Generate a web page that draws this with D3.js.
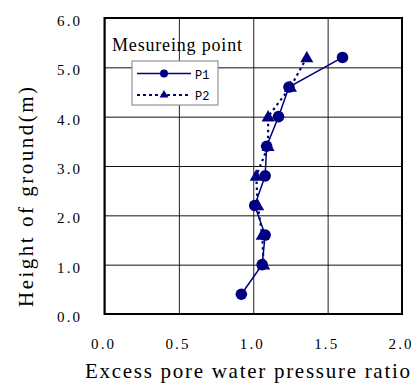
<!DOCTYPE html>
<html>
<head>
<meta charset="utf-8">
<script src="https://cdn.jsdelivr.net/npm/d3@7"></script>
<style>
  html, body { margin: 0; padding: 0; background: #fff; }
  svg { display: block; }
</style>
</head>
<body>
<div id="chart"></div>
<script>
// measured heights (m) and pore pressure ratios
const heightsP1 = [5.2, 4.6, 4.0, 3.4, 2.8, 2.2, 1.6, 1.0, 0.4];
const ratiosP1 = [1.60, 1.24, 1.17, 1.09, 1.08, 1.01, 1.08, 1.06, 0.92];
const heightsP2 = [5.2, 4.6, 4.0, 3.4, 2.8, 2.2, 1.6, 1.0];
const ratiosP2 = [1.36, 1.25, 1.10, 1.10, 1.02, 1.03, 1.06, 1.07];
const xTicks = [0, 0.5, 1.0, 1.5, 2.0];
const yTicks = [0, 1, 2, 3, 4, 5, 6];
const seriesNames = ['P1', 'P2'];

const W = 411, H = 383;
const navy = '#000080';
const serif = 'Liberation Serif, Times New Roman, serif';
const mono = 'Liberation Mono, Courier New, monospace';

const svg = d3.select('#chart').append('svg')
  .attr('width', W)
  .attr('height', H)
  .attr('font-family', serif);

const x = d3.scaleLinear().domain([0, 2]).range([104.5, 402]);
const y = d3.scaleLinear().domain([0, 6]).range([314, 18]);
const plotW = x.range()[1] - x.range()[0];
const plotH = y.range()[0] - y.range()[1];

// Grid lines
const gx = svg.append('g')
  .attr('transform', `translate(0,${y(0)})`)
  .call(d3.axisBottom(x).tickValues(xTicks).tickSize(-plotH).tickFormat(() => ''));
gx.select('.domain').remove();
gx.selectAll('line').attr('stroke', '#222').attr('stroke-width', 1);

const gy = svg.append('g')
  .attr('transform', `translate(${x(0)},0)`)
  .call(d3.axisLeft(y).tickValues(yTicks).tickSize(-plotW).tickFormat(() => ''));
gy.select('.domain').remove();
gy.selectAll('line').attr('stroke', '#111').attr('stroke-width', 1);

// Frame
svg.append('rect')
  .attr('x', x(0))
  .attr('y', y(6))
  .attr('width', plotW)
  .attr('height', plotH)
  .attr('fill', 'none')
  .attr('stroke', '#000')
  .attr('stroke-width', 2);

// Tick labels
const yAxis = svg.append('g')
  .attr('transform', `translate(${x(0)},0)`)
  .call(d3.axisLeft(y).tickValues(yTicks).tickSize(0).tickPadding(24.5).tickFormat(d3.format('.1f')));
yAxis.attr('font-family', serif).attr('font-size', 15);
yAxis.select('.domain').remove();
yAxis.selectAll('text')
  .attr('dy', '0.5em')
  .attr('textLength', 23)
  .attr('lengthAdjust', 'spacing')
  .attr('fill', '#000');

const xAxis = svg.append('g')
  .attr('transform', `translate(-2.5,${y(0)})`)
  .call(d3.axisBottom(x).tickValues(xTicks).tickSize(0).tickPadding(24).tickFormat(d3.format('.1f')));
xAxis.attr('font-family', serif).attr('font-size', 15);
xAxis.select('.domain').remove();
xAxis.selectAll('text')
  .attr('dy', '0.71em')
  .attr('textLength', 23)
  .attr('lengthAdjust', 'spacing')
  .attr('fill', '#000');

// Axis titles
svg.append('text')
  .attr('x', 85)
  .attr('y', 378)
  .attr('textLength', 325)
  .attr('lengthAdjust', 'spacing')
  .attr('font-size', 21)
  .text('Excess pore water pressure ratio');

svg.append('text')
  .attr('transform', 'translate(33,197) rotate(-90)')
  .attr('text-anchor', 'middle')
  .attr('textLength', 220)
  .attr('lengthAdjust', 'spacing')
  .attr('font-size', 21)
  .text('Height of ground(m)');

// Series
const p1 = heightsP1.map((h, i) => ({ h, v: ratiosP1[i] }));
const p2 = heightsP2.map((h, i) => ({ h, v: ratiosP2[i] }));

const line = d3.line()
  .x(d => x(d.v))
  .y(d => y(d.h));

svg.append('path')
  .datum(p2)
  .attr('fill', 'none')
  .attr('stroke', navy)
  .attr('stroke-width', 2.2)
  .attr('stroke-dasharray', '2.5 3.5')
  .attr('d', line);

svg.append('path')
  .datum(p1)
  .attr('fill', 'none')
  .attr('stroke', navy)
  .attr('stroke-width', 1.5)
  .attr('d', line);

const tri = d3.symbol().type(d3.symbolTriangle).size(74);

svg.selectAll('.tri')
  .data(p2)
  .enter().append('path')
  .attr('class', 'tri')
  .attr('d', tri)
  .attr('transform', d => `translate(${x(d.v)},${y(d.h) + 1})`)
  .attr('fill', navy);

svg.selectAll('.dot')
  .data(p1)
  .enter().append('circle')
  .attr('class', 'dot')
  .attr('cx', d => x(d.v))
  .attr('cy', d => y(d.h))
  .attr('r', 5.8)
  .attr('fill', navy);

// Legend
svg.append('text')
  .attr('x', 112)
  .attr('y', 51)
  .attr('textLength', 130)
  .attr('lengthAdjust', 'spacing')
  .attr('font-size', 18)
  .text('Mesureing point');

const legend = svg.append('g');
legend.append('rect')
  .attr('x', 132)
  .attr('y', 61)
  .attr('width', 86)
  .attr('height', 44)
  .attr('fill', '#fff')
  .attr('stroke', '#808080')
  .attr('stroke-width', 1);

const rows = legend.selectAll('.row')
  .data(seriesNames)
  .enter().append('g')
  .attr('transform', (d, i) => `translate(0,${i === 0 ? 73.5 : 95})`);

rows.append('line')
  .attr('x1', 137)
  .attr('x2', 191)
  .attr('stroke', navy)
  .attr('stroke-width', (d, i) => i === 0 ? 1.5 : 2.2)
  .attr('stroke-dasharray', (d, i) => i === 0 ? null : '3 3');

rows.each(function (d, i) {
  const g = d3.select(this);
  if (i === 0) {
    g.append('circle').attr('cx', 164).attr('cy', 0).attr('r', 4).attr('fill', navy);
  } else {
    g.append('path')
      .attr('d', d3.symbol().type(d3.symbolTriangle).size(34))
      .attr('transform', 'translate(164,0)')
      .attr('fill', navy);
  }
});

rows.append('text')
  .attr('x', 195)
  .attr('y', 5)
  .attr('font-family', mono)
  .attr('font-size', 12)
  .text(d => d);
</script>
</body>
</html>
